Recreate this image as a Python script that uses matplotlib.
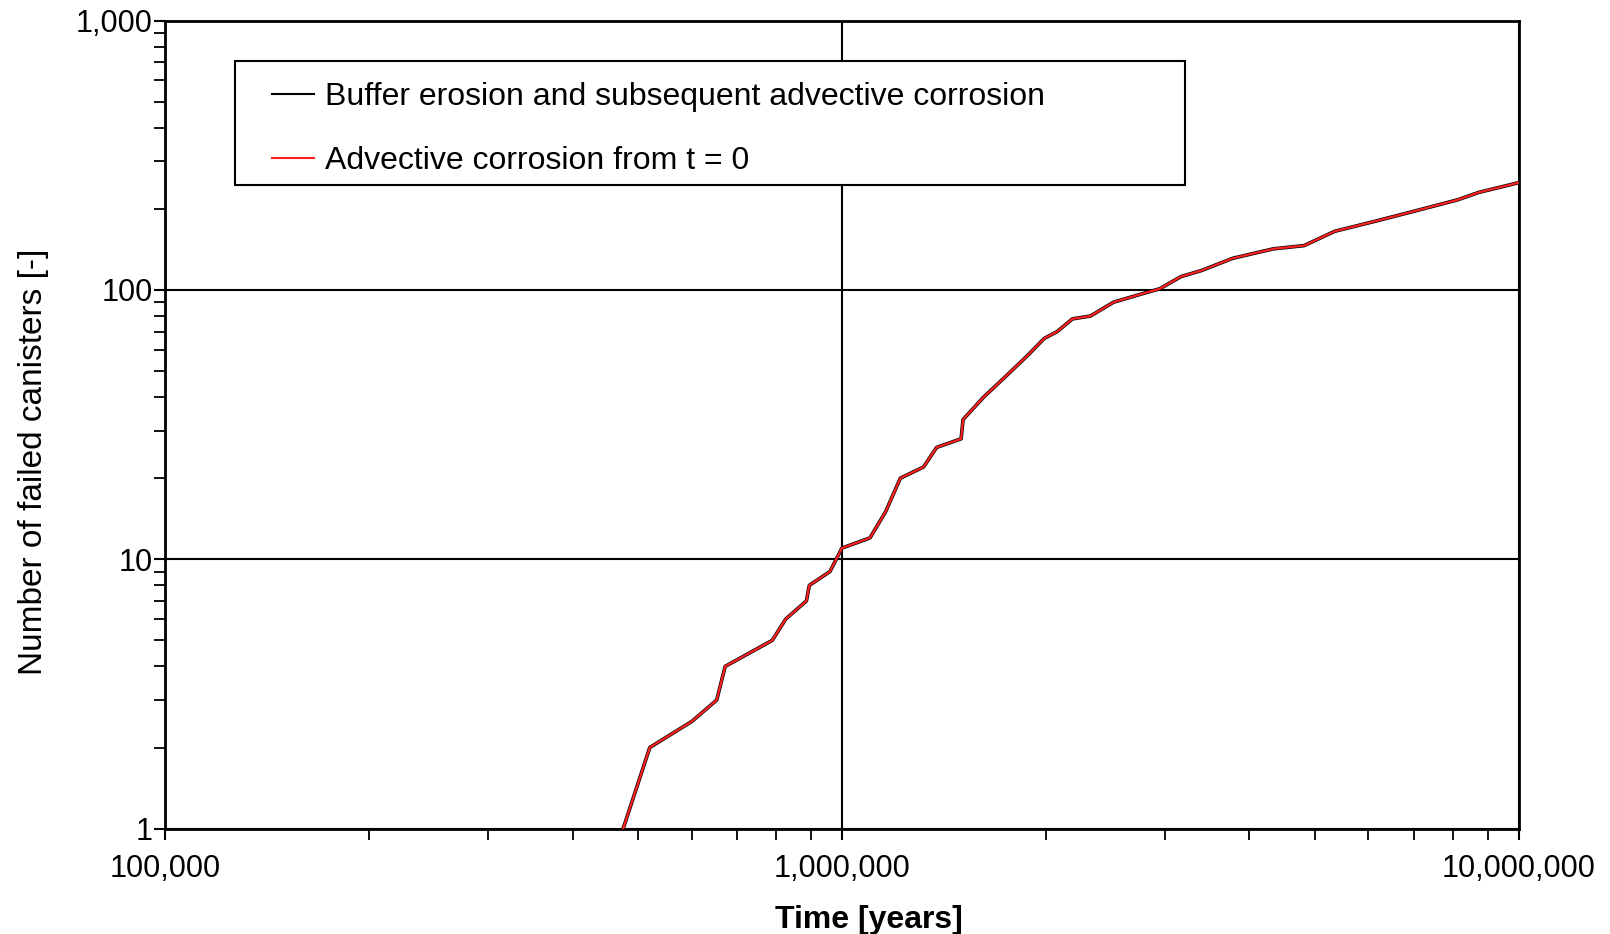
import matplotlib
matplotlib.use("Agg")
import matplotlib.pyplot as plt
from matplotlib.ticker import LogLocator, FuncFormatter, NullFormatter
from matplotlib.patches import Rectangle

plt.rcParams['font.family'] = ['Liberation Sans', 'DejaVu Sans']

# Data (time in years, number of failed canisters)
time_years = [475e3, 520e3, 600e3, 653e3, 672e3, 789e3, 826e3, 886e3, 895e3, 960e3,
              1.00e6, 1.10e6, 1.16e6, 1.22e6, 1.32e6, 1.38e6, 1.50e6, 1.51e6, 1.62e6,
              1.75e6, 1.88e6, 1.99e6, 2.08e6, 2.19e6, 2.33e6, 2.52e6, 2.75e6, 2.95e6,
              3.17e6, 3.40e6, 3.78e6, 4.34e6, 4.82e6, 5.35e6, 6.15e6, 7.07e6, 8.13e6,
              8.73e6, 10.0e6]
advective_t0 = [1, 2, 2.5, 3, 4, 5, 6, 7, 8, 9,
                11, 12, 15, 20, 22, 26, 28, 33, 40,
                48, 57, 66, 70, 78, 80, 90, 96, 101,
                112, 118, 131, 142, 146, 165, 180, 197, 216,
                230, 250]
buffer_erosion = [1, 2, 2.5, 3, 4, 5, 6, 7, 8, 9,
                  11, 12, 15, 20, 22, 26, 28, 33, 40,
                  48, 57, 66, 70, 78, 80, 90, 96, 101,
                  112, 118, 131, 142, 146, 165, 180, 197, 216,
                  230, 250]

labels = ["Buffer erosion and subsequent advective corrosion",
          "Advective corrosion from t = 0"]

fig = plt.figure(figsize=(16.10, 9.34), dpi=100)
ax = fig.add_axes([165.3/1610, 1-828.6/934, (1518.6-165.3)/1610, (828.6-20.5)/934])

ax.plot(time_years, buffer_erosion, color='black', lw=2.6, label=labels[0], zorder=3)
ax.plot(time_years, advective_t0, color='#ff2020', lw=1.6, label=labels[1], zorder=4)

ax.set_xscale('log')
ax.set_yscale('log')
ax.set_xlim(1e5, 1e7)
ax.set_ylim(1, 1000)

fmt = FuncFormatter(lambda v, p: f"{int(round(v)):,}")
ax.xaxis.set_major_formatter(fmt)
ax.yaxis.set_major_formatter(fmt)
ax.xaxis.set_minor_locator(LogLocator(base=10, subs=range(2, 10)))
ax.yaxis.set_minor_locator(LogLocator(base=10, subs=range(2, 10)))
ax.xaxis.set_minor_formatter(NullFormatter())
ax.yaxis.set_minor_formatter(NullFormatter())

ax.tick_params(axis='both', which='major', direction='out', length=8, width=1.5,
               labelsize=22, color='black')
ax.tick_params(axis='both', which='minor', direction='out', length=8, width=1.3)
ax.tick_params(axis='x', which='major', pad=10)
ax.tick_params(axis='y', which='major', pad=1)

ax.grid(True, which='major', color='black', lw=1.5)
for s in ax.spines.values():
    s.set_linewidth(2)
    s.set_color('black')

ax.set_xlabel("Time [years]", fontsize=23, fontweight='bold')
ax.xaxis.set_label_coords(0.52, -0.095)
ax.set_ylabel("Number of failed canisters [-]", fontsize=24)
ax.yaxis.set_label_coords(-0.0856, 0.4536)

# legend frame
ax.add_patch(Rectangle((0.0516, 0.7967), 0.7018, 0.1537, transform=ax.transAxes,
                       facecolor='white', edgecolor='black', lw=1.5, zorder=5))
leg = ax.legend(loc='upper left', bbox_to_anchor=(0.0789, 0.9236),
                fontsize=23, frameon=False, handlelength=1.3,
                handletextpad=0.35, labelspacing=1.05, borderpad=0,
                borderaxespad=0)
leg.set_zorder(6)
for h in leg.get_lines():
    h.set_linewidth(1.5)

fig.savefig("out.png", dpi=100)
